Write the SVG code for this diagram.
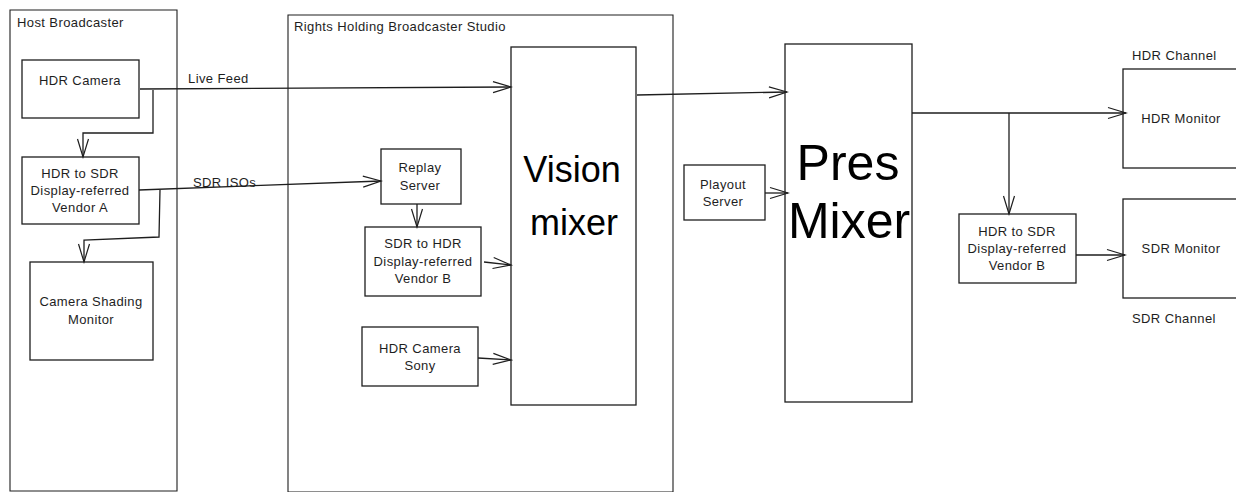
<svg xmlns="http://www.w3.org/2000/svg" width="1236" height="492" viewBox="0 0 1236 492">
<style>
.box{fill:none;stroke:#1e1e1e;stroke-width:1.3}
.frame{fill:none;stroke:#1e1e1e;stroke-width:1.1}
.t{font-family:"Liberation Sans",Arial,sans-serif;font-size:13px;letter-spacing:0.4px;fill:#1e1e1e;text-anchor:middle}
.tl{font-family:"Liberation Sans",Arial,sans-serif;font-size:13px;letter-spacing:0.4px;fill:#1e1e1e}
.big{font-family:"Liberation Sans",Arial,sans-serif;fill:#000;text-anchor:middle}
.c{fill:none;stroke:#1e1e1e;stroke-width:1.3;marker-end:url(#ah)}
</style>
<defs>
<marker id="ah" markerWidth="22" markerHeight="14" refX="20" refY="7" orient="auto" markerUnits="userSpaceOnUse">
<path d="M2,1.5 L20,7 L2,12.5" fill="none" stroke="#1e1e1e" stroke-width="1.2"/>
</marker>
</defs>
<rect width="1236" height="492" fill="#fff"/>
<g id="host-broadcaster">
<path class="frame" d="M10,10 L177,10 L177,491 L10,491 Z"/>
<text class="tl" x="17" y="27">Host Broadcaster</text>
</g>
<g id="rights-holding">
<path class="frame" d="M288,15 L673,15 L673,492 L288,492 Z"/>
<text class="tl" x="294" y="31">Rights Holding Broadcaster Studio</text>
</g>
<g id="hdr-camera">
<rect class="box" x="22" y="60" width="117" height="58"/>
<text class="t" x="80" y="85">HDR Camera</text>
</g>
<g id="vendor-a">
<rect class="box" x="22" y="157" width="117" height="67"/>
<text class="t" x="80" y="178">HDR to SDR</text>
<text class="t" x="80" y="195">Display-referred</text>
<text class="t" x="80" y="212">Vendor A</text>
</g>
<g id="camera-shading">
<rect class="box" x="30" y="262" width="123" height="98"/>
<text class="t" x="91" y="306">Camera Shading</text>
<text class="t" x="91" y="324">Monitor</text>
</g>
<g id="replay-server">
<rect class="box" x="381" y="149" width="80" height="55"/>
<text class="t" x="420" y="172">Replay</text>
<text class="t" x="420" y="190">Server</text>
</g>
<g id="sdr-to-hdr">
<rect class="box" x="365" y="227" width="116" height="69"/>
<text class="t" x="423" y="248">SDR to HDR</text>
<text class="t" x="423" y="266">Display-referred</text>
<text class="t" x="423" y="283">Vendor B</text>
</g>
<g id="hdr-camera-sony">
<rect class="box" x="362" y="327" width="116" height="59"/>
<text class="t" x="420" y="353">HDR Camera</text>
<text class="t" x="420" y="370">Sony</text>
</g>
<g id="vision-mixer">
<rect class="box" x="511" y="47" width="125" height="358"/>
<text class="big" x="572" y="182" font-size="36">Vision</text>
<text class="big" x="574" y="235" font-size="36">mixer</text>
</g>
<g id="playout-server">
<rect class="box" x="684" y="165" width="81" height="55"/>
<text class="t" x="723" y="189">Playout</text>
<text class="t" x="723" y="206">Server</text>
</g>
<g id="pres-mixer">
<rect class="box" x="785" y="44" width="127" height="358"/>
<text class="big" x="848" y="180" font-size="50">Pres</text>
<text class="big" x="849" y="238" font-size="50">Mixer</text>
</g>
<g id="vendor-b">
<rect class="box" x="959" y="214" width="117" height="69"/>
<text class="t" x="1017" y="236">HDR to SDR</text>
<text class="t" x="1017" y="253">Display-referred</text>
<text class="t" x="1017" y="270">Vendor B</text>
</g>
<g id="hdr-monitor">
<rect class="box" x="1123" y="69" width="116" height="99"/>
<text class="t" x="1181" y="123">HDR Monitor</text>
<text class="tl" x="1132" y="60">HDR Channel</text>
</g>
<g id="sdr-monitor">
<rect class="box" x="1123" y="199" width="116" height="99"/>
<text class="t" x="1181" y="253">SDR Monitor</text>
<text class="tl" x="1132" y="323">SDR Channel</text>
</g>
<g id="connectors">
<path class="c" d="M140,89 L511,87"/>
<text class="tl" x="188" y="83">Live Feed</text>
<path class="c" d="M153,90 L153,133 L83,133 L83,157"/>
<path class="c" d="M139,190 L381,181"/>
<text class="tl" x="193" y="187">SDR ISOs</text>
<path class="c" d="M160,190 L159,237 L84,240 L84,262"/>
<path class="c" d="M417,204 L417,227"/>
<path class="c" d="M484,262 L511,265"/>
<path class="c" d="M478,358 L511,360"/>
<path class="c" d="M637,95 L787,92"/>
<path class="c" d="M765,193 L788,193"/>
<path class="c" d="M912,113 L1126,113"/>
<path class="c" d="M1009,113 L1009,214"/>
<path class="c" d="M1076,255 L1125,255"/>
</g>
</svg>
